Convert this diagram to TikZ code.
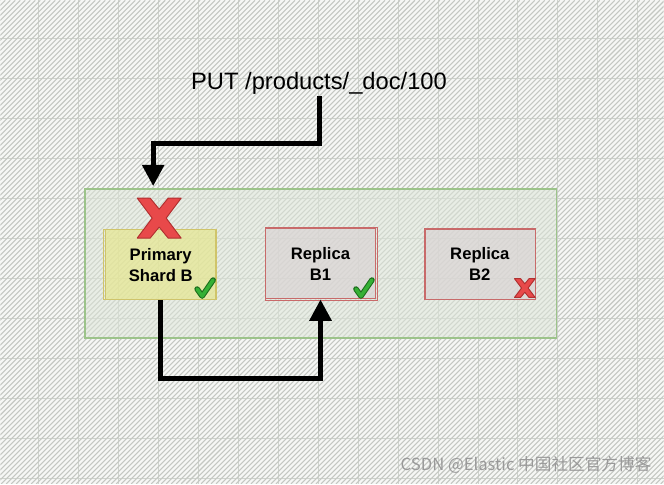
\documentclass[tikz,border=0pt]{standalone}
\usepackage{fontspec}
\setmainfont{Liberation Sans}
\newfontfamily\cjkfont{Noto Sans CJK SC}
\usetikzlibrary{arrows.meta,positioning,calc}

\definecolor{paper}{HTML}{F6F7F5}
\definecolor{gridline}{HTML}{CFD3CD}
\definecolor{hatchline}{HTML}{C4C7C2}
\definecolor{grpfill}{HTML}{DDE5D8}
\definecolor{grpline}{HTML}{9CC38A}
\definecolor{primfill}{HTML}{E6E78F}
\definecolor{primline}{HTML}{CFC46A}
\definecolor{replfill}{HTML}{DAD4D4}
\definecolor{replline}{HTML}{C86A6A}
\definecolor{xred}{HTML}{E8494A}
\definecolor{xdark}{HTML}{B03030}
\definecolor{tickgreen}{HTML}{35B035}
\definecolor{tickdark}{HTML}{1C6E1C}

\tikzset{
	shardbox/.style={draw,line width=0.9pt,minimum width=83pt,minimum height=53pt,inner sep=0pt,
		align=center,font=\bfseries\fontsize{12.5}{15.75}\selectfont,fill opacity=0.7,text opacity=1},
	primbox/.style={shardbox,fill=primfill,draw=primline},
	replbox/.style={shardbox,fill=replfill,draw=replline},
	flow/.style={line width=3.75pt,-{Triangle[length=16pt,width=16pt]}},
	crossmark/.pic={
		\filldraw[fill=xred,draw=xdark,line width=0.7pt,line join=round]
			(-22,-20) -- (-9,-20) -- (0,-9) -- (9,-20) -- (22,-20) -- (7,0) -- (22,20)
			-- (9,20) -- (0,9) -- (-9,20) -- (-22,20) -- (-7,0) -- cycle;},
	tickmark/.pic={
		\draw[tickdark,line width=4.2pt,line cap=round,line join=round] (-8,1) -- (-3,8) -- (8,-8);
		\draw[tickgreen,line width=2.6pt,line cap=round,line join=round] (-8,1) -- (-3,8) -- (8,-8);}
}

\begin{document}
\begin{tikzpicture}[x=0.75pt,y=-0.75pt]
	% paper
	\fill[paper] (0,0) rectangle (664,484);
	\foreach \g in {38,78,...,638} \draw[gridline,line width=0.5pt] (\g,0) -- (\g,484);
	\foreach \g in {38,78,...,478} \draw[gridline,line width=0.5pt] (0,\g) -- (664,\g);
	\begin{scope}
		\clip (0,0) rectangle (664,484);
		\foreach \k in {-484,-479,...,664} \draw[hatchline,line width=0.8pt] (\k,484) -- ++(484,-484);
	\end{scope}
	\useasboundingbox (0,0) rectangle (664,484);

	% shard group
	\node[draw=grpline,fill=grpfill,fill opacity=0.55,line width=0.9pt,minimum width=354.75pt,
		minimum height=112.5pt,inner sep=0pt](group) at (320.5,263) {};
	\draw[grpline,line width=0.6pt] ([shift={(1.2pt,-1.2pt)}]group.north west) rectangle ([shift={(-0.8pt,1.2pt)}]group.south east);

	\node[primbox](primary) at (160.5,264.5) {Primary\\Shard B};
	\node[replbox](b1) at (320.5,263.5) {Replica\\B1};
	\node[replbox](b2) at (480,264) {Replica\\B2};
	\draw[primline,line width=0.5pt] ([shift={(-0.8pt,0.6pt)}]primary.south west) rectangle ([shift={(-0.6pt,-0.8pt)}]primary.north east);
	\draw[replline,line width=0.5pt] ([shift={(0.6pt,-0.8pt)}]b1.south west) rectangle ([shift={(0.9pt,0.6pt)}]b1.north east);
	\draw[replline,line width=0.5pt] ([shift={(0.9pt,0.6pt)}]b2.south west) rectangle ([shift={(-0.6pt,-0.9pt)}]b2.north east);

	% marks
	\pic at (159,218) {crossmark};
	\pic at (205,288) {tickmark};
	\pic at (364,288) {tickmark};
	\pic[scale=0.47] at (525,288) {crossmark};

	% request
	\node[font=\fontsize{17.8}{20}\selectfont,inner sep=1pt](req) at (319,83) {PUT /products/\_doc/100};
	\coordinate (bend) at (319,143);
	\coordinate (entry) at (153,186);
	\draw[flow] (req.south) -- (bend) -| (entry);
	\draw[flow] (primary.south) -- ++(0,78) -| (b1.south);

	\node[text=black!40,font=\cjkfont\fontsize{12.5}{14}\selectfont,anchor=east,inner sep=0pt](mark) at (652,465) {CSDN @Elastic 中国社区官方博客};
\end{tikzpicture}
\end{document}
